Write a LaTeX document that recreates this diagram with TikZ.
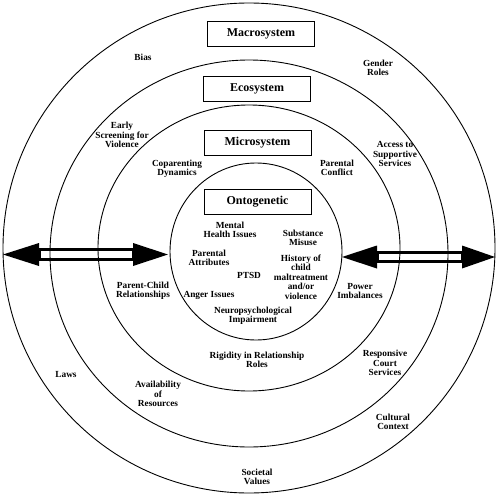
\documentclass[tikz,border=0pt]{standalone}
\usepackage{fontspec}
\setmainfont{Liberation Serif}
\begin{document}
\begin{tikzpicture}[x=1pt,y=-1pt,
  lbl/.style={align=center,inner sep=0pt,font=\fontsize{9.3}{9.4}\selectfont\bfseries},
  sysbox/.style={draw,line width=0.9pt,minimum width=107pt,minimum height=25pt,inner sep=0pt,font=\fontsize{12}{14}\selectfont\bfseries},
  ring/.style={line width=0.9pt},
  shaft/.style={draw,line width=3pt,fill=white},
  head/.style={fill=black}]
\useasboundingbox (0,0) rectangle (497,500);
% double arrows (drawn first, circles pass over the shaft)
\draw[shaft] (39,249.5) rectangle (133,259.5);
\fill[head] (3,254.5) -- (39,243) -- (39,266) -- cycle;
\fill[head] (168,254.5) -- (133,243) -- (133,266) -- cycle;
\draw[shaft] (377,252.5) rectangle (462,261.5);
\fill[head] (342,257) -- (377,245.5) -- (377,268.5) -- cycle;
\fill[head] (495,257) -- (462,245.5) -- (462,268.5) -- cycle;
% rings
\draw[ring] (249,248) ellipse [x radius=246pt, y radius=245pt];
\draw[ring] (249,253.5) ellipse [x radius=199pt, y radius=193.5pt];
\draw[ring] (249,248) ellipse [x radius=151pt, y radius=143pt];
\draw[ring] (256,251.5) ellipse [x radius=86pt, y radius=88.5pt];
% system boxes
\node[sysbox] (macro) at (261,33.5) {Macrosystem};
\node[sysbox] (eco) at (257,88.5) {Ecosystem};
\node[sysbox] (micro) at (257.5,142.5) {Microsystem};
\node[sysbox] (onto) at (257.5,201.5) {Ontogenetic};
% macrosystem labels
\node[lbl] (bias) at (143,57) {Bias};
\node[lbl] (gender) at (378,68) {Gender\\Roles};
\node[lbl] (laws) at (66,374) {Laws};
\node[lbl] (cultural) at (393,422) {Cultural\\Context};
\node[lbl] (societal) at (257,477) {Societal\\Values};
% ecosystem labels
\node[lbl] (screen) at (122,135) {Early\\Screening for\\Violence};
\node[lbl] (access) at (395,154) {Access to\\Supportive\\Services};
\node[lbl] (avail) at (158,394) {Availability\\of\\Resources};
\node[lbl] (court) at (385,363) {Responsive\\Court\\Services};
% microsystem labels
\node[lbl] (copar) at (177,169) {Coparenting\\Dynamics};
\node[lbl] (conflict) at (337,168) {Parental\\Conflict};
\node[lbl] (pcrel) at (143,291) {Parent-Child\\Relationships};
\node[lbl] (power) at (360,291) {Power\\Imbalances};
\node[lbl] (rigid) at (257,360) {Rigidity in Relationship\\Roles};
% ontogenetic labels
\node[lbl] (mental) at (230,230) {Mental\\Health Issues};
\node[lbl] (subst) at (303,238) {Substance\\Misuse};
\node[lbl] (pattr) at (209,258) {Parental\\Attributes};
\node[lbl] (ptsd) at (249,275) {PTSD};
\node[lbl] (history) at (301,277) {History of\\child\\maltreatment\\and/or\\violence};
\node[lbl] (anger) at (209,295) {Anger Issues};
\node[lbl] (neuro) at (253,316) {Neuropsychological\\Impairment};
\end{tikzpicture}
\end{document}
